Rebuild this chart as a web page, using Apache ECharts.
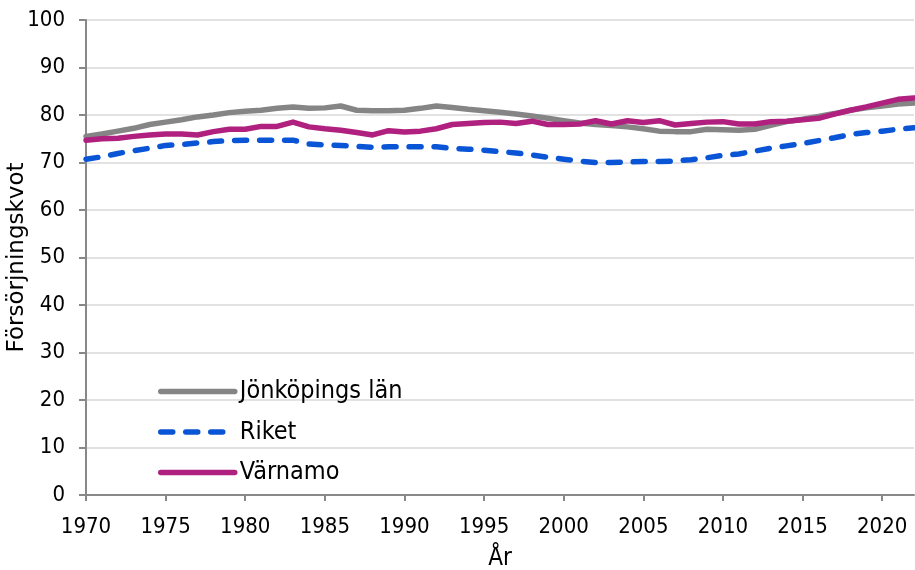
<!DOCTYPE html>
<html>
<head>
<meta charset="utf-8">
<script src="https://cdn.jsdelivr.net/npm/echarts@6/dist/echarts.min.js"></script>
<style>
  html, body { margin: 0; padding: 0; background: #fff; }
  #chart { width: 915px; height: 570px; }
</style>
</head>
<body>
<div id="chart"></div>
<script>
const years = [];
for (let y = 1970; y <= 2022; y++) years.push(String(y));

const jonkoping = [
  75.5, 76.0, 76.6, 77.2, 78.0, 78.5, 79.0, 79.6, 80.0, 80.5,
  80.8, 81.0, 81.4, 81.7, 81.4, 81.5, 81.9, 81.0, 80.9, 80.9,
  81.0, 81.4, 81.9, 81.6, 81.2, 80.9, 80.6, 80.2, 79.8, 79.3,
  78.8, 78.3, 78.0, 77.8, 77.5, 77.1, 76.6, 76.5, 76.5, 77.0,
  76.9, 76.8, 77.0, 77.8, 78.6, 79.1, 79.7, 80.3, 81.0, 81.5,
  81.9, 82.3, 82.5
];
const riket = [
  70.7, 71.2, 71.9, 72.5, 73.0, 73.6, 73.8, 74.1, 74.4, 74.6,
  74.7, 74.7, 74.7, 74.7, 73.9, 73.7, 73.6, 73.4, 73.2, 73.3,
  73.3, 73.3, 73.3, 73.0, 72.8, 72.6, 72.3, 72.0, 71.6, 71.1,
  70.7, 70.3, 70.0, 70.0, 70.1, 70.2, 70.2, 70.3, 70.6, 71.0,
  71.5, 71.8, 72.4, 73.0, 73.5, 74.0, 74.6, 75.2, 75.9, 76.3,
  76.6, 77.0, 77.3
];
const varnamo = [
  74.7, 75.0, 75.1, 75.5, 75.8, 76.0, 76.0, 75.8, 76.5, 77.0,
  77.0, 77.6, 77.6, 78.5, 77.5, 77.1, 76.8, 76.3, 75.8, 76.7,
  76.4, 76.6, 77.1, 78.0, 78.2, 78.4, 78.5, 78.2, 78.7, 78.0,
  78.0, 78.1, 78.8, 78.1, 78.8, 78.4, 78.8, 77.9, 78.2, 78.5,
  78.6, 78.1, 78.1, 78.6, 78.7, 79.0, 79.3, 80.2, 81.0, 81.7,
  82.5, 83.3, 83.6
];

// the reference text is tall and narrow
const narrow = "'Liberation Sans Narrow', 'DejaVu Sans Condensed', 'Liberation Sans', sans-serif";
const chart = echarts.init(document.getElementById('chart'));

const line = (name, data, color, type) => ({
  name,
  type: 'line',
  data,
  symbol: 'none',
  lineStyle: { color, width: 5.5, type, cap: 'round', join: 'round' },
  itemStyle: { color },
});

chart.setOption({
  animation: false,
  textStyle: { fontFamily: narrow, color: '#000' },
  grid: { left: 86, right: 1, top: 20, bottom: 75, outerBoundsMode: 'none' },
  legend: {
    orient: 'vertical',
    left: 158,
    top: 379,
    padding: 0,
    itemWidth: 74,
    itemHeight: 18,
    itemGap: 15.5,
    itemStyle: { opacity: 0 },
    lineStyle: { width: 5.5, cap: 'round' },
    textStyle: { fontSize: 25, color: '#000', fontFamily: narrow },
    data: ['Jönköpings län', 'Riket', 'Värnamo'],
  },
  xAxis: {
    type: 'category',
    data: years,
    boundaryGap: false,
    name: 'År',
    nameLocation: 'middle',
    nameGap: 52,
    nameMoveOverlap: false,
    nameTextStyle: { fontSize: 24, color: '#000', fontFamily: narrow },
    axisLine: { lineStyle: { color: '#888', width: 2 } },
    axisTick: { interval: 4, length: 6, lineStyle: { color: '#888', width: 2 } },
    axisLabel: { interval: 4, fontSize: 22, color: '#000', margin: 21 },
    splitLine: { show: false },
  },
  yAxis: {
    type: 'value',
    min: 0,
    max: 100,
    interval: 10,
    name: 'Försörjningskvot',
    nameLocation: 'middle',
    nameGap: 57,
    nameMoveOverlap: false,
    nameTextStyle: { fontSize: 23, color: '#000', fontFamily: "'DejaVu Sans', sans-serif" },
    axisLine: { show: true, lineStyle: { color: '#888', width: 2 } },
    axisTick: { show: true, length: 7, lineStyle: { color: '#888', width: 2 } },
    axisLabel: { fontSize: 22, color: '#000', margin: 21 },
    splitLine: { lineStyle: { color: '#d9d9d9', width: 1.5 } },
  },
  series: [
    line('Jönköpings län', jonkoping, '#858585', 'solid'),
    line('Riket', riket, '#0a55d6', [12, 13]),
    line('Värnamo', varnamo, '#b0207f', 'solid'),
  ],
});
</script>
</body>
</html>
